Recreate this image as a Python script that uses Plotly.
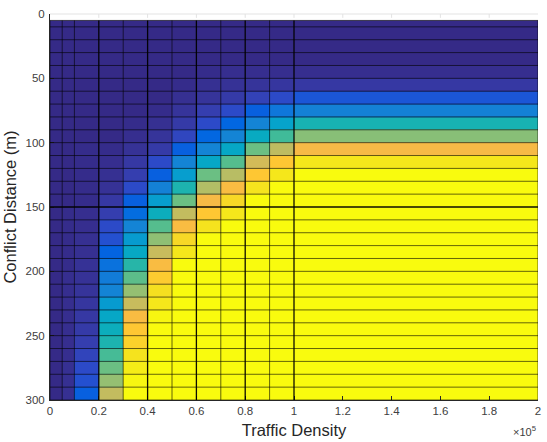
import plotly.graph_objects as go

# Grid edges (pcolor-style): traffic density along x, conflict distance along y
traffic_density = [0, 5000, 10000, 20000, 30000, 40000, 50000,
                   60000, 70000, 80000, 90000, 100000, 200000]
conflict_distance = [5, 10, 20, 30, 40, 50, 60, 70, 80, 90, 100,
                     110, 120, 130, 140, 150, 160, 170, 180, 190, 200,
                     210, 220, 230, 240, 250, 260, 270, 280, 290, 300]

# Cell values per density column, one entry per distance row (5, 10, 20, ..., 290 m)
p_0k = [0, 0, 0, 0, 0, 0, 0, 0, 0, 0,
        0, 0, 0, 0, 0, 0, 0, 0, 0, 0,
        0, 0, 0, 0, 0, 0, 0, 0, 0, 0]
p_5k = [0, 0, 0, 0, 0, 0, 0, 0, 0, 0,
        0, 0, 0, 0, 0, 0.005, 0.005, 0.005, 0.005, 0.005,
        0.01, 0.01, 0.01, 0.01, 0.01, 0.01, 0.01, 0.015, 0.015, 0.015]
p_10k = [0, 0, 0, 0, 0, 0, 0, 0, 0, 0,
         0.005, 0.005, 0.005, 0.005, 0.005, 0.01, 0.01, 0.015, 0.015, 0.02,
         0.02, 0.025, 0.03, 0.035, 0.04, 0.05, 0.065, 0.08, 0.09, 0.12]
p_20k = [0, 0, 0, 0, 0, 0, 0, 0, 0, 0,
         0.005, 0.01, 0.015, 0.02, 0.035, 0.05, 0.08, 0.09, 0.13, 0.18,
         0.22, 0.25, 0.33, 0.38, 0.42, 0.46, 0.53, 0.58, 0.64, 0.72]
p_30k = [0, 0, 0, 0, 0, 0, 0, 0, 0.005, 0.01,
         0.02, 0.035, 0.05, 0.08, 0.12, 0.16, 0.25, 0.33, 0.39, 0.48,
         0.56, 0.64, 0.73, 0.83, 0.87, 0.9, 0.95, 0.97, 0.99, 1]
p_40k = [0, 0, 0, 0, 0, 0, 0, 0.005, 0.015, 0.025,
         0.04, 0.08, 0.12, 0.24, 0.34, 0.42, 0.55, 0.63, 0.73, 0.83,
         0.88, 0.94, 0.96, 0.99, 1, 1, 1, 1, 1, 1]
p_50k = [0, 0, 0, 0, 0, 0.005, 0.015, 0.025, 0.04, 0.07,
         0.12, 0.25, 0.34, 0.46, 0.58, 0.72, 0.83, 0.92, 0.96, 1,
         1, 1, 1, 1, 1, 1, 1, 1, 1, 1]
p_60k = [0, 0, 0, 0, 0.005, 0.015, 0.025, 0.05, 0.08, 0.14,
         0.25, 0.38, 0.58, 0.69, 0.82, 0.87, 0.95, 1, 1, 1,
         1, 1, 1, 1, 1, 1, 1, 1, 1, 1]
p_70k = [0, 0, 0, 0, 0.01, 0.02, 0.04, 0.08, 0.14, 0.25,
         0.38, 0.55, 0.70, 0.83, 0.92, 0.96, 1, 1, 1, 1,
         1, 1, 1, 1, 1, 1, 1, 1, 1, 1]
p_80k = [0, 0, 0, 0, 0.01, 0.025, 0.06, 0.12, 0.25, 0.40,
         0.58, 0.75, 0.87, 0.95, 1, 1, 1, 1, 1, 1,
         1, 1, 1, 1, 1, 1, 1, 1, 1, 1]
p_90k = [0, 0, 0, 0, 0.01, 0.03, 0.08, 0.20, 0.36, 0.52,
         0.71, 0.87, 0.96, 1, 1, 1, 1, 1, 1, 1,
         1, 1, 1, 1, 1, 1, 1, 1, 1, 1]
p_100k = [0, 0, 0, 0, 0.01, 0.035, 0.10, 0.24, 0.45, 0.62,
          0.82, 0.96, 1, 1, 1, 1, 1, 1, 1, 1,
          1, 1, 1, 1, 1, 1, 1, 1, 1, 1]

columns = [p_0k, p_5k, p_10k, p_20k, p_30k, p_40k, p_50k,
           p_60k, p_70k, p_80k, p_90k, p_100k]
z = [[col[r] for col in columns] for r in range(len(conflict_distance) - 1)]

x_ticks = [0, 20000, 40000, 60000, 80000, 100000, 120000, 140000, 160000, 180000, 200000]
x_tick_text = ["0", "0.2", "0.4", "0.6", "0.8", "1", "1.2", "1.4", "1.6", "1.8", "2"]
y_ticks = [0, 50, 100, 150, 200, 250, 300]

# MATLAB parula colormap (64 entries)
parula = [
    (0.2081, 0.1663, 0.5292), (0.2116, 0.1898, 0.5777), (0.2123, 0.2138, 0.6270),
    (0.2081, 0.2386, 0.6771), (0.1959, 0.2645, 0.7279), (0.1707, 0.2919, 0.7792),
    (0.1253, 0.3242, 0.8303), (0.0591, 0.3598, 0.8683), (0.0117, 0.3875, 0.8820),
    (0.0060, 0.4086, 0.8828), (0.0165, 0.4266, 0.8786), (0.0329, 0.4430, 0.8720),
    (0.0498, 0.4586, 0.8641), (0.0629, 0.4737, 0.8554), (0.0723, 0.4887, 0.8467),
    (0.0779, 0.5040, 0.8384), (0.0793, 0.5200, 0.8312), (0.0749, 0.5375, 0.8263),
    (0.0641, 0.5570, 0.8240), (0.0488, 0.5772, 0.8228), (0.0343, 0.5966, 0.8199),
    (0.0265, 0.6137, 0.8135), (0.0239, 0.6287, 0.8038), (0.0231, 0.6418, 0.7913),
    (0.0228, 0.6535, 0.7768), (0.0267, 0.6642, 0.7607), (0.0384, 0.6743, 0.7436),
    (0.0590, 0.6838, 0.7254), (0.0843, 0.6928, 0.7062), (0.1133, 0.7015, 0.6859),
    (0.1453, 0.7098, 0.6646), (0.1801, 0.7177, 0.6424), (0.2178, 0.7250, 0.6193),
    (0.2586, 0.7317, 0.5954), (0.3022, 0.7376, 0.5712), (0.3482, 0.7424, 0.5473),
    (0.3953, 0.7459, 0.5244), (0.4420, 0.7481, 0.5033), (0.4871, 0.7491, 0.4840),
    (0.5300, 0.7491, 0.4661), (0.5709, 0.7485, 0.4494), (0.6099, 0.7473, 0.4337),
    (0.6473, 0.7456, 0.4188), (0.6834, 0.7435, 0.4044), (0.7184, 0.7411, 0.3905),
    (0.7525, 0.7384, 0.3768), (0.7858, 0.7356, 0.3633), (0.8185, 0.7327, 0.3498),
    (0.8507, 0.7299, 0.3360), (0.8824, 0.7274, 0.3217), (0.9139, 0.7258, 0.3063),
    (0.9450, 0.7261, 0.2886), (0.9739, 0.7314, 0.2666), (0.9938, 0.7455, 0.2403),
    (0.9990, 0.7653, 0.2164), (0.9955, 0.7861, 0.1967), (0.9880, 0.8066, 0.1794),
    (0.9789, 0.8271, 0.1633), (0.9697, 0.8481, 0.1475), (0.9626, 0.8705, 0.1309),
    (0.9589, 0.8949, 0.1132), (0.9598, 0.9218, 0.0948), (0.9661, 0.9514, 0.0755),
    (0.9763, 0.9831, 0.0538),
]
n = len(parula) - 1
parula_scale = [[i / n, "rgb(%d,%d,%d)" % tuple(round(c * 255) for c in rgb)]
                for i, rgb in enumerate(parula)]

fig = go.Figure(go.Heatmap(
    x=traffic_density, y=conflict_distance, z=z,
    colorscale=parula_scale, zmin=0, zmax=1, showscale=False,
))

# Cell edges drawn on top of the faces
shapes = []
x0, x1 = traffic_density[0], traffic_density[-1]
y0, y1 = conflict_distance[0], conflict_distance[-1]
for xe in traffic_density:
    strong = xe % 20000 == 0 and 0 < xe <= 100000
    shapes.append(dict(type="line", xref="x", yref="y", x0=xe, x1=xe, y0=y0, y1=y1,
                       line=dict(color="rgba(0,0,0,0.95)" if strong else "rgba(0,0,0,0.6)",
                                 width=1.3 if strong else 1), layer="above"))
for ye in conflict_distance:
    strong = ye == 150
    shapes.append(dict(type="line", xref="x", yref="y", x0=x0, x1=x1, y0=ye, y1=ye,
                       line=dict(color="rgba(0,0,0,0.95)" if strong else "rgba(0,0,0,0.6)",
                                 width=1.3 if strong else 1), layer="above"))
# light upper box edge with its tick marks
shapes.append(dict(type="line", xref="paper", yref="paper", x0=0, x1=1, y0=1, y1=1,
                   line=dict(color="#e3e3e3", width=1), layer="above"))
for xt in x_ticks[1:-1]:
    shapes.append(dict(type="line", xref="x", yref="paper", x0=xt, x1=xt, y0=1, y1=0.99,
                       line=dict(color="#e3e3e3", width=1), layer="above"))

FONT = "Liberation Sans, Arial, sans-serif"
axis_font = dict(family=FONT, size=11.5, color="#404040")
title_font = dict(family=FONT, size=16.5, color="#262626")
fig.update_layout(
    width=547, height=442,
    margin=dict(l=50, r=6, t=14, b=40),
    paper_bgcolor="white", plot_bgcolor="white",
    shapes=shapes,
    xaxis=dict(range=[0, 200000], tickvals=x_ticks, ticktext=x_tick_text,
               ticks="inside", ticklen=4, tickcolor="#262626",
               showline=True, linecolor="#262626", linewidth=1,
               showgrid=False, zeroline=False, tickfont=axis_font,
               title=dict(text="Traffic Density", standoff=8, font=title_font)),
    yaxis=dict(range=[300, 0], tickvals=y_ticks,
               ticks="inside", ticklen=4, tickcolor="#262626",
               showline=True, linecolor="#262626", linewidth=1,
               showgrid=False, zeroline=False, tickfont=axis_font,
               ticklabelstandoff=2,
               title=dict(text="Conflict Distance (m)", standoff=4, font=title_font)),
    annotations=[dict(text="×10<sup>5</sup>", xref="paper", yref="paper",
                      x=1.0, y=-0.058, xanchor="right", yanchor="top", showarrow=False,
                      font=dict(family=FONT, size=11, color="#404040"))],
)

fig.write_html("out.html")
